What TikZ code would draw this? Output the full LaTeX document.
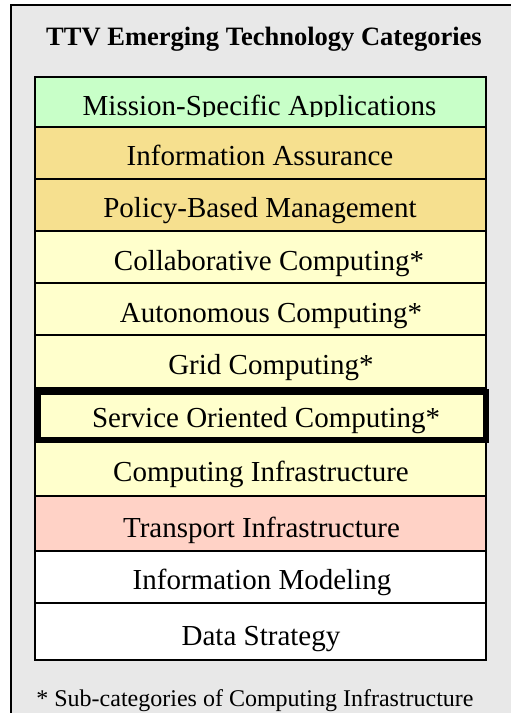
\documentclass[tikz,border=0pt]{standalone}
\usepackage{fontspec}
\setmainfont{Liberation Serif}
\definecolor{bggrey}{HTML}{E8E8E8}
\definecolor{mgreen}{HTML}{C8FFC8}
\definecolor{mtan}{HTML}{F6E08F}
\definecolor{myellow}{HTML}{FFFFCC}
\definecolor{msalmon}{HTML}{FFD2C6}
\begin{document}
\begin{tikzpicture}[x=1pt,y=-1pt,
  rowbox/.style={draw=black, line width=1.4pt, inner sep=0pt, minimum width=451pt},
  rowtext/.style={anchor=base, inner sep=0pt, font=\fontsize{29}{32}\selectfont},
  titletext/.style={anchor=base, inner sep=0pt, font=\bfseries\fontsize{26.5}{30}\selectfont},
  notetext/.style={anchor=base, inner sep=0pt, font=\fontsize{24}{28}\selectfont}]
\useasboundingbox (0,0) rectangle (511,713);
\clip (0,0) rectangle (511,713);
% outer frame (extends beyond the page on right and bottom)
\draw[fill=bggrey, line width=1.5pt] (11,5) rectangle (530,730);
\node[titletext] (title) at (264,45) {TTV Emerging Technology Categories};
% rows
\node[rowbox, fill=mgreen,  minimum height=50pt] (r1)  at (260.5,102) {};
\node[rowbox, fill=mtan,    minimum height=52pt] (r2)  at (260.5,153) {};
\node[rowbox, fill=mtan,    minimum height=52pt] (r3)  at (260.5,205) {};
\node[rowbox, fill=myellow, minimum height=52pt] (r4)  at (260.5,257) {};
\node[rowbox, fill=myellow, minimum height=52pt] (r5)  at (260.5,309) {};
\node[rowbox, fill=myellow, minimum height=53pt] (r6)  at (260.5,361.5) {};
\node[rowbox, fill=myellow, minimum height=52pt] (r7)  at (260.5,414) {};
\node[rowbox, fill=myellow, minimum height=56pt] (r8)  at (260.5,468) {};
\node[rowbox, fill=msalmon, minimum height=55pt] (r9)  at (260.5,523.5) {};
\node[rowbox, fill=white,   minimum height=52pt] (r10) at (260.5,577) {};
\node[rowbox, fill=white,   minimum height=57pt] (r11) at (260.5,631.5) {};
% highlighted box
\draw[line width=6pt] (38,392) rectangle (486,440);
% texts
\begin{scope}
\clip (35,77) rectangle (486,116);
\node[rowtext] (t1) at (259.5,115) {Mission-Specific Applications};
\end{scope}
\node[rowtext] (t2)  at (260,165) {Information Assurance};
\node[rowtext] (t3)  at (260,217) {Policy-Based Management};
\node[rowtext] (t4)  at (269,270) {Collaborative Computing*};
\node[rowtext] (t5)  at (271,322) {Autonomous Computing*};
\node[rowtext] (t6)  at (271,374) {Grid Computing*};
\node[rowtext] (t7)  at (266,427) {Service Oriented Computing*};
\node[rowtext] (t8)  at (261,481) {Computing Infrastructure};
\node[rowtext] (t9)  at (261.5,537) {Transport Infrastructure};
\node[rowtext] (t10) at (262,589) {Information Modeling};
\node[rowtext] (t11) at (261,645) {Data Strategy};
\node[notetext] (note) at (255,706) {* Sub-categories of Computing Infrastructure};
\end{tikzpicture}
\end{document}
